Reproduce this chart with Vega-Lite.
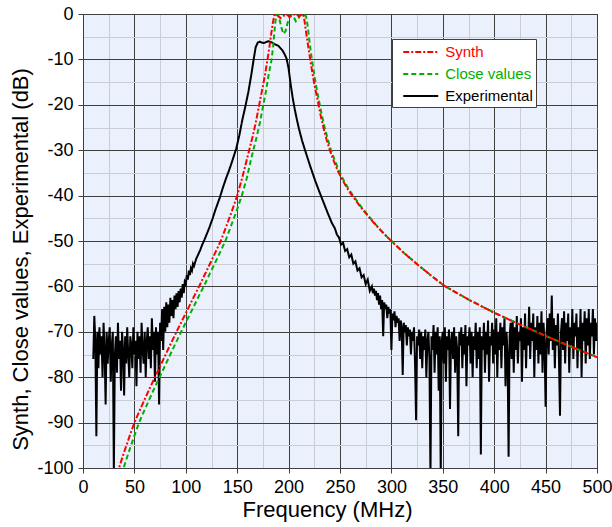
{
  "$schema": "https://vega.github.io/schema/vega-lite/v6.json",
  "width": 514,
  "height": 454,
  "autosize": {"type": "none"},
  "padding": {"left": 83, "top": 14, "right": 15, "bottom": 59},
  "background": "white",
  "config": {
    "font": "Liberation Sans",
    "view": {"fill": "#EBF1FC", "stroke": "#404040", "strokeWidth": 1},
    "axis": {
      "labelFont": "Liberation Sans",
      "labelFontSize": 18,
      "labelColor": "#000000",
      "titleFont": "Liberation Sans",
      "titleFontSize": 22,
      "titleFontWeight": "normal",
      "titleColor": "#000000",
      "domainColor": "#404040",
      "tickColor": "#404040",
      "tickSize": 5,
      "labelPadding": 5,
      "gridWidth": 1
    }
  },
  "datasets": {
    "exp": [
      {"f":10,"v":-76},{"f":11,"v":-66.5},{"f":12,"v":-72},{"f":13,"v":-93},{"f":14,"v":-70},{"f":15,"v":-78},{"f":16,"v":-69},{"f":17,"v":-75},{"f":18,"v":-71},{"f":19,"v":-80},
      {"f":20,"v":-68},{"f":21,"v":-74},{"f":22,"v":-86},{"f":23,"v":-70},{"f":24,"v":-77},{"f":25,"v":-72},{"f":26,"v":-69},{"f":27,"v":-81},{"f":28,"v":-73},{"f":29,"v":-70},
      {"f":30,"v":-101},{"f":31,"v":-75},{"f":32,"v":-71},{"f":33,"v":-79},{"f":34,"v":-68},{"f":35,"v":-76},{"f":36,"v":-72},{"f":37,"v":-83},{"f":38,"v":-70},{"f":39,"v":-74},
      {"f":40,"v":-84},{"f":41,"v":-71},{"f":42,"v":-77},{"f":43,"v":-69},{"f":44,"v":-75},{"f":45,"v":-80},{"f":46,"v":-71},{"f":47,"v":-73},{"f":48,"v":-78},{"f":49,"v":-69},
      {"f":50,"v":-75},{"f":51,"v":-72},{"f":52,"v":-82},{"f":53,"v":-70},{"f":54,"v":-76},{"f":55,"v":-71},{"f":56,"v":-79},{"f":57,"v":-68},{"f":58,"v":-74},{"f":59,"v":-77},
      {"f":60,"v":-70},{"f":61,"v":-80},{"f":62,"v":-72},{"f":63,"v":-69},{"f":64,"v":-76},{"f":65,"v":-71},{"f":66,"v":-78},{"f":67,"v":-67},{"f":68,"v":-74},{"f":69,"v":-70},
      {"f":70,"v":-81},{"f":71,"v":-69},{"f":72,"v":-75},{"f":73,"v":-70},{"f":74,"v":-86},{"f":75,"v":-68},{"f":76,"v":-72},{"f":77,"v":-65},{"f":78,"v":-74},{"f":79,"v":-64.5},
      {"f":80,"v":-70},{"f":81,"v":-63.5},{"f":82,"v":-69},{"f":83,"v":-64},{"f":84,"v":-68},{"f":85,"v":-62.5},{"f":86,"v":-66.5},{"f":87,"v":-63},{"f":88,"v":-67},{"f":89,"v":-62},
      {"f":90,"v":-65},{"f":91,"v":-61.5},{"f":92,"v":-64.5},{"f":93,"v":-61},{"f":94,"v":-63.5},{"f":95,"v":-60.5},{"f":96,"v":-62.5},{"f":97,"v":-59.5},{"f":98,"v":-61.5},{"f":99,"v":-59},
      {"f":100,"v":-59.5},{"f":101,"v":-57.5},{"f":102,"v":-58.5},{"f":103,"v":-56.5},{"f":104,"v":-57.5},{"f":105,"v":-56},{"f":106,"v":-56.5},{"f":107,"v":-55},{"f":108,"v":-55.5},
      {"f":110,"v":-54},{"f":112,"v":-53},{"f":114,"v":-52},{"f":116,"v":-50.8},{"f":118,"v":-49.8},{"f":120,"v":-48.7},{"f":123,"v":-47},{"f":126,"v":-45.1},{"f":129,"v":-43},
      {"f":133,"v":-40.5},{"f":136,"v":-38.3},{"f":139,"v":-36.3},{"f":142,"v":-34.5},{"f":145,"v":-32.5},{"f":149,"v":-29.7},{"f":152,"v":-26.8},{"f":155,"v":-23.3},{"f":158,"v":-20.3},
      {"f":161,"v":-17},{"f":164,"v":-13},{"f":166,"v":-10},{"f":168,"v":-7.3},{"f":170,"v":-6.3},{"f":172,"v":-6.1},{"f":174,"v":-6.3},{"f":176,"v":-6.4},{"f":178,"v":-6.2},
      {"f":180,"v":-6.0},{"f":182,"v":-6.1},{"f":184,"v":-6.3},{"f":186,"v":-6.6},{"f":188,"v":-6.8},{"f":190,"v":-7.0},{"f":192,"v":-7.5},{"f":194,"v":-8.0},{"f":196,"v":-8.8},
      {"f":198,"v":-9.8},{"f":200,"v":-12},{"f":202,"v":-15.5},{"f":204,"v":-18.5},{"f":206,"v":-21},{"f":208,"v":-23.2},{"f":210,"v":-25.2},{"f":213,"v":-27.8},{"f":216,"v":-30},
      {"f":221,"v":-33.5},{"f":226,"v":-36.8},{"f":230,"v":-39.2},{"f":234,"v":-41.5},{"f":238,"v":-43.8},{"f":242,"v":-46},{"f":245,"v":-47.2},{"f":247,"v":-48.6},{"f":249,"v":-49.2},
      {"f":251,"v":-50.8},{"f":253,"v":-50.4},{"f":255,"v":-52.2},{"f":257,"v":-51.8},{"f":259,"v":-53.6},{"f":261,"v":-53},{"f":263,"v":-55},{"f":265,"v":-54.5},{"f":267,"v":-56.5},
      {"f":269,"v":-56},{"f":271,"v":-58},{"f":273,"v":-57.5},{"f":275,"v":-59.5},{"f":277,"v":-58.5},{"f":279,"v":-61},{"f":281,"v":-60},
      {"f":282,"v":-61.5},{"f":283,"v":-60.5},{"f":284,"v":-62},{"f":285,"v":-61},{"f":286,"v":-63},{"f":287,"v":-61.5},{"f":288,"v":-64},{"f":289,"v":-62},{"f":290,"v":-65},{"f":291,"v":-63},
      {"f":292,"v":-71},{"f":293,"v":-63.5},{"f":294,"v":-65},{"f":295,"v":-64},{"f":296,"v":-67},{"f":297,"v":-64.5},{"f":298,"v":-66},{"f":299,"v":-65},{"f":300,"v":-74},{"f":301,"v":-66},
      {"f":302,"v":-67.5},{"f":303,"v":-65.5},{"f":304,"v":-69},{"f":305,"v":-66.5},{"f":306,"v":-68},{"f":307,"v":-67},{"f":308,"v":-72},{"f":309,"v":-67.5},{"f":310,"v":-69},{"f":311,"v":-79.5},
      {"f":312,"v":-68},{"f":313,"v":-70},{"f":314,"v":-68.5},{"f":315,"v":-73},{"f":316,"v":-69},{"f":317,"v":-71},{"f":318,"v":-69.5},{"f":319,"v":-75},{"f":320,"v":-70},{"f":321,"v":-72},
      {"f":322,"v":-69},{"f":323,"v":-77},{"f":324,"v":-89.5},{"f":325,"v":-71},{"f":326,"v":-73},{"f":327,"v":-69.5},{"f":328,"v":-76},{"f":329,"v":-70},{"f":330,"v":-78},{"f":331,"v":-71},
      {"f":332,"v":-74},{"f":333,"v":-69.5},{"f":334,"v":-80},{"f":335,"v":-72},{"f":336,"v":-70},{"f":337,"v":-76},{"f":338,"v":-102},{"f":339,"v":-71},{"f":340,"v":-74},{"f":341,"v":-68.5},
      {"f":342,"v":-79},{"f":343,"v":-70},{"f":344,"v":-75},{"f":345,"v":-69},{"f":346,"v":-83},{"f":347,"v":-71},{"f":348,"v":-102},{"f":349,"v":-72},{"f":350,"v":-70},{"f":351,"v":-77},
      {"f":352,"v":-69},{"f":353,"v":-81},{"f":354,"v":-71},{"f":355,"v":-74},{"f":356,"v":-69.5},{"f":357,"v":-87},{"f":358,"v":-72},{"f":359,"v":-70},{"f":360,"v":-76},{"f":361,"v":-69},
      {"f":362,"v":-79},{"f":363,"v":-71},{"f":364,"v":-74},{"f":365,"v":-93},{"f":366,"v":-70},{"f":367,"v":-73},{"f":368,"v":-69},{"f":369,"v":-78},{"f":370,"v":-70.5},{"f":371,"v":-75},
      {"f":372,"v":-68.5},{"f":373,"v":-82},{"f":374,"v":-71},{"f":375,"v":-73},{"f":376,"v":-69},{"f":377,"v":-77},{"f":378,"v":-70},{"f":379,"v":-80},{"f":380,"v":-71},{"f":381,"v":-74},
      {"f":382,"v":-68},{"f":383,"v":-78},{"f":384,"v":-70},{"f":385,"v":-76},{"f":386,"v":-69},{"f":387,"v":-97},{"f":388,"v":-71},{"f":389,"v":-74},{"f":390,"v":-68},{"f":391,"v":-79},
      {"f":392,"v":-70},{"f":393,"v":-75},{"f":394,"v":-67.5},{"f":395,"v":-81},{"f":396,"v":-71},{"f":397,"v":-73},{"f":398,"v":-68},{"f":399,"v":-77},{"f":400,"v":-69.5},{"f":401,"v":-75},
      {"f":402,"v":-67},{"f":403,"v":-80},{"f":404,"v":-70},{"f":405,"v":-74},{"f":406,"v":-68},{"f":407,"v":-78},{"f":408,"v":-69},{"f":409,"v":-73},{"f":410,"v":-67},{"f":411,"v":-82},
      {"f":412,"v":-70},{"f":413,"v":-75},{"f":414,"v":-97.5},{"f":415,"v":-71},{"f":416,"v":-68},{"f":417,"v":-76},{"f":418,"v":-67.5},{"f":419,"v":-79},{"f":420,"v":-69},{"f":421,"v":-74},
      {"f":422,"v":-66.5},{"f":423,"v":-77},{"f":424,"v":-70},{"f":425,"v":-72},{"f":426,"v":-67},{"f":427,"v":-81},{"f":428,"v":-69},{"f":429,"v":-74},{"f":430,"v":-66},{"f":431,"v":-78},
      {"f":432,"v":-69},{"f":433,"v":-73},{"f":434,"v":-64.5},{"f":435,"v":-76},{"f":436,"v":-68},{"f":437,"v":-72},{"f":438,"v":-66},{"f":439,"v":-80},{"f":440,"v":-69},{"f":441,"v":-74},
      {"f":442,"v":-66.5},{"f":443,"v":-77},{"f":444,"v":-68},{"f":445,"v":-75},{"f":446,"v":-65.5},{"f":447,"v":-79},{"f":448,"v":-68},{"f":449,"v":-73},{"f":450,"v":-86.5},{"f":451,"v":-70},
      {"f":452,"v":-67},{"f":453,"v":-75},{"f":454,"v":-66},{"f":455,"v":-72},{"f":456,"v":-62},{"f":457,"v":-74},{"f":458,"v":-67},{"f":459,"v":-78},{"f":460,"v":-68.5},{"f":461,"v":-73},
      {"f":462,"v":-66},{"f":463,"v":-76},{"f":464,"v":-88.5},{"f":465,"v":-70},{"f":466,"v":-67},{"f":467,"v":-74},{"f":468,"v":-65.5},{"f":469,"v":-77},{"f":470,"v":-68},{"f":471,"v":-72},
      {"f":472,"v":-66},{"f":473,"v":-79},{"f":474,"v":-69},{"f":475,"v":-73},{"f":476,"v":-65},{"f":477,"v":-76},{"f":478,"v":-68},{"f":479,"v":-71},{"f":480,"v":-66},{"f":481,"v":-78},
      {"f":482,"v":-69},{"f":483,"v":-74},{"f":484,"v":-65},{"f":485,"v":-80},{"f":486,"v":-68},{"f":487,"v":-72},{"f":488,"v":-65.5},{"f":489,"v":-77},{"f":490,"v":-67},{"f":491,"v":-73},
      {"f":492,"v":-65},{"f":493,"v":-76},{"f":494,"v":-68},{"f":495,"v":-71},{"f":496,"v":-65},{"f":497,"v":-75},{"f":498,"v":-67},{"f":499,"v":-72},{"f":500,"v":-68}
    ],
    "syn": [
      {"f":33,"v":-101.5},{"f":35,"v":-100},{"f":40,"v":-96.5},{"f":45,"v":-93.2},{"f":50,"v":-90},{"f":55,"v":-87.4},{"f":60,"v":-84.9},{"f":65,"v":-82.4},{"f":70,"v":-80},
      {"f":75,"v":-77.6},{"f":80,"v":-75.2},{"f":85,"v":-72.8},{"f":91,"v":-70},{"f":96,"v":-67.7},{"f":102,"v":-65},{"f":108,"v":-62.2},{"f":113,"v":-60},{"f":118,"v":-57.6},
      {"f":124,"v":-54.8},{"f":129,"v":-52.4},{"f":134,"v":-50},{"f":139,"v":-47},{"f":145,"v":-43.3},{"f":150,"v":-40},{"f":155,"v":-36},{"f":160,"v":-31.5},{"f":165,"v":-27},
      {"f":168,"v":-24},{"f":171,"v":-20.5},{"f":174,"v":-17},{"f":177,"v":-13.5},{"f":179.5,"v":-10},{"f":181.5,"v":-7},{"f":183,"v":-4.5},{"f":184.5,"v":-2.2},{"f":186,"v":-0.4},
      {"f":188,"v":0},{"f":190,"v":-0.5},{"f":192,"v":-0.9},{"f":195,"v":-0.4},{"f":198,"v":-0.1},{"f":201,"v":-0.6},{"f":204,"v":-0.2},{"f":207,"v":0},{"f":210,"v":-0.5},
      {"f":212,"v":-0.2},{"f":214,"v":0},{"f":215.5,"v":-1.5},{"f":217,"v":-4},{"f":219,"v":-7},{"f":221,"v":-10},{"f":223,"v":-12.8},{"f":225.5,"v":-16},{"f":228,"v":-18.7},
      {"f":231,"v":-22.15},{"f":234,"v":-25.15},{"f":237,"v":-27.7},{"f":240,"v":-29.95},{"f":244,"v":-32.4},{"f":248,"v":-34.6},{"f":252,"v":-36.4},{"f":257,"v":-38.4},{"f":262,"v":-40.05},
      {"f":270,"v":-42.5},{"f":279,"v":-45},{"f":289,"v":-47.5},{"f":299,"v":-49.8},{"f":312,"v":-52.6},{"f":325,"v":-55.1},{"f":338,"v":-57.5},{"f":351,"v":-59.8},
      {"f":375,"v":-62.9},{"f":400,"v":-65.8},{"f":425,"v":-68.4},{"f":450,"v":-70.9},{"f":475,"v":-73.3},{"f":500,"v":-75.6}
    ],
    "cls": [
      {"f":37.5,"v":-101.5},{"f":39.5,"v":-100},{"f":44.5,"v":-96.5},{"f":49.5,"v":-93.2},{"f":54.5,"v":-90},{"f":59.5,"v":-87.4},{"f":64.5,"v":-84.9},{"f":69.5,"v":-82.4},{"f":74.5,"v":-80},
      {"f":79.5,"v":-77.6},{"f":84.5,"v":-75.2},{"f":89.5,"v":-72.8},{"f":95.5,"v":-70},{"f":100.5,"v":-67.7},{"f":106.5,"v":-65},{"f":112.5,"v":-62.2},{"f":117.5,"v":-60},{"f":122.5,"v":-57.6},
      {"f":128.5,"v":-54.8},{"f":133.5,"v":-52.4},{"f":138.5,"v":-50},{"f":143.5,"v":-47},{"f":149.5,"v":-43.3},{"f":154.5,"v":-40},{"f":159.5,"v":-36},{"f":164,"v":-31.5},{"f":169,"v":-27},
      {"f":172,"v":-24},{"f":175,"v":-20.5},{"f":178,"v":-17},{"f":180.5,"v":-13.5},{"f":183.5,"v":-10},{"f":185,"v":-7},{"f":186,"v":-4.5},{"f":187,"v":-2},{"f":188,"v":-0.3},
      {"f":189.5,"v":0},{"f":191,"v":-1},{"f":193,"v":-3},{"f":195,"v":-4.4},{"f":197,"v":-3.8},{"f":199,"v":-2},{"f":201,"v":-0.6},{"f":203,"v":-0.2},{"f":205,"v":-0.6},
      {"f":207,"v":-1.6},{"f":209,"v":-1.2},{"f":211,"v":-0.4},{"f":213,"v":0},{"f":215,"v":-0.2},{"f":217,"v":-0.5},{"f":218.5,"v":-2.5},{"f":220,"v":-5.5},{"f":222,"v":-9},
      {"f":224,"v":-12},{"f":226.5,"v":-15.5},{"f":229,"v":-18.5},{"f":232,"v":-21.9},{"f":235,"v":-24.9},{"f":238,"v":-27.5},{"f":241,"v":-29.8},{"f":245,"v":-32.3},{"f":249,"v":-34.5},
      {"f":253,"v":-36.4},{"f":258,"v":-38.4},{"f":263,"v":-40.1},{"f":271,"v":-42.6},{"f":280,"v":-45.1},{"f":289,"v":-47.5},{"f":299,"v":-49.8},{"f":312,"v":-52.6},{"f":325,"v":-55.1},
      {"f":338,"v":-57.5},{"f":351,"v":-59.8},{"f":375,"v":-62.9},{"f":400,"v":-65.8},{"f":425,"v":-68.4},{"f":450,"v":-70.9},{"f":475,"v":-73.3},{"f":500,"v":-75.6}
    ]
  },
  "encoding": {
    "x": {
      "field": "f", "type": "quantitative",
      "scale": {"domain": [0, 500], "nice": false, "zero": false},
      "axis": {
        "title": "Frequency (MHz)",
        "titlePadding": 3,
        "titleX": 244,
        "values": [0,25,50,75,100,125,150,175,200,225,250,275,300,325,350,375,400,425,450,475,500],
        "labelExpr": "datum.value % 50 === 0 ? '' + datum.value : ''",
        "gridColor": {"condition": {"test": "datum.value % 50 === 0", "value": "#404040"}, "value": "#c8ccd4"},
        "tickOpacity": {"condition": {"test": "datum.value % 50 === 0", "value": 1}, "value": 0},
        "labelFlush": false,
        "labelOverlap": false
      }
    },
    "y": {
      "field": "v", "type": "quantitative",
      "scale": {"domain": [-100, 0], "nice": false, "zero": false},
      "axis": {
        "title": "Synth, Close values, Experimental (dB)",
        "titlePadding": 4,
        "titleY": 245,
        "values": [-100,-95,-90,-85,-80,-75,-70,-65,-60,-55,-50,-45,-40,-35,-30,-25,-20,-15,-10,-5,0],
        "labelExpr": "datum.value % 10 === 0 ? '' + datum.value : ''",
        "gridColor": {"condition": {"test": "datum.value % 10 === 0", "value": "#404040"}, "value": "#c8ccd4"},
        "tickOpacity": {"condition": {"test": "datum.value % 10 === 0", "value": 1}, "value": 0},
        "labelFlush": false,
        "labelOverlap": false
      }
    }
  },
  "layer": [
    {
      "data": {"name": "exp"},
      "mark": {"type": "line", "clip": true, "strokeWidth": 2},
      "encoding": {
        "color": {"datum": "Experimental"},
        "strokeDash": {"datum": "Experimental"}
      }
    },
    {
      "data": {"name": "cls"},
      "mark": {"type": "line", "clip": true, "strokeWidth": 2},
      "encoding": {
        "color": {"datum": "Close values"},
        "strokeDash": {"datum": "Close values"}
      }
    },
    {
      "data": {"name": "syn"},
      "mark": {"type": "line", "clip": true, "strokeWidth": 2},
      "encoding": {
        "color": {
          "datum": "Synth",
          "scale": {"domain": ["Synth", "Close values", "Experimental"], "range": ["#ff0000", "#00b000", "#000000"]},
          "legend": {
            "title": null,
            "orient": "none",
            "legendX": 309,
            "legendY": 25,
            "fillColor": "#ffffff",
            "strokeColor": "#404040",
            "padding": 3,
            "symbolType": "M-2,0H2",
            "symbolSize": 306,
            "symbolStrokeWidth": 2,
            "symbolOffset": 15.75,
            "labelFont": "Liberation Sans",
            "labelFontSize": 15,
            "labelOffset": 14.5,
            "rowPadding": 4,
            "encode": {"labels": {"update": {"fill": {"signal": "scale('color', datum.value)"}}}}
          }
        },
        "strokeDash": {
          "datum": "Synth",
          "scale": {"domain": ["Synth", "Close values", "Experimental"], "range": [[6, 2, 2, 2], [5, 3], [1, 0]]},
          "legend": {
            "title": null,
            "orient": "none",
            "legendX": 309,
            "legendY": 25
          }
        }
      }
    }
  ]
}
